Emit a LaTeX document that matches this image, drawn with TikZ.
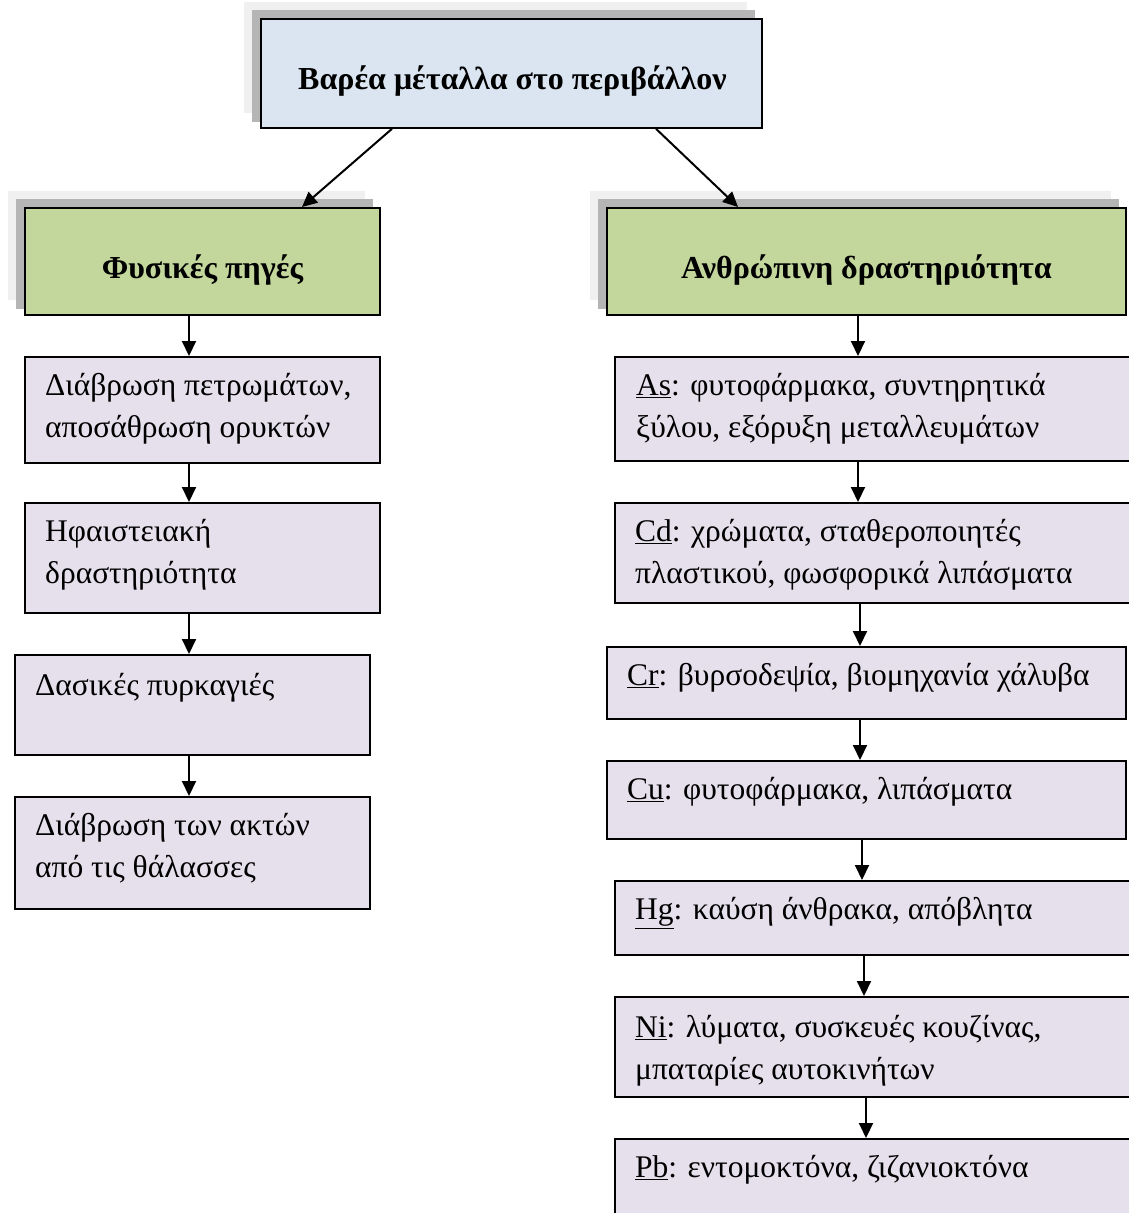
\documentclass[tikz,border=0pt]{standalone}
\usepackage{fontspec}
\setmainfont{Liberation Serif}
\usetikzlibrary{arrows.meta}

\definecolor{headblue}{HTML}{DBE5F1}
\definecolor{headgreen}{HTML}{C3D69B}
\definecolor{itemlav}{HTML}{E5E0EC}
\definecolor{shadowdark}{HTML}{B5B5B5}
\definecolor{shadowlight}{HTML}{F0F0F0}

\tikzset{
  box/.style={draw=black, line width=1.8pt, rectangle, anchor=north west, inner sep=0pt},
  headbox/.style={box},
  headtext/.style={inner sep=0pt, font=\fontsize{32}{38}\selectfont\bfseries},
  itembox/.style={box, fill=itemlav},
  itemtext/.style={anchor=north west, inner sep=0pt, align=left,
    font=\fontsize{31.5}{42}\selectfont},
  arr/.style={line width=2pt, -{Triangle[length=15pt,width=14pt]}},
}

% shadow behind a header box: two stacked grey plates offset up-left
\newcommand{\plateshadow}[4]{%
  \fill[shadowlight] (#1-16,#2-16) rectangle (#1+#3-14,#2+#4-14);
  \fill[shadowdark]  (#1-8,#2-8)   rectangle (#1+#3-6,#2+#4-5);
}

\begin{document}
\begin{tikzpicture}[x=1pt,y=-1pt]
\useasboundingbox (0,0) rectangle (1129,1213);
\clip (0,0) rectangle (1129,1213);

% header boxes with their shadows
\plateshadow{260}{18}{501}{109}
\node[headbox, fill=headblue, minimum width=501pt, minimum height=109pt] (top) at (260,18) {};
\node[headtext] (toptext) at ([xshift=1pt,yshift=-8pt]top.center) {Βαρέα μέταλλα στο περιβάλλον};

\plateshadow{24}{207}{355}{107}
\node[headbox, fill=headgreen, minimum width=355pt, minimum height=107pt] (nat) at (24,207) {};
\node[headtext] (nattext) at ([yshift=-9pt]nat.center) {Φυσικές πηγές};

\plateshadow{606}{207}{519}{107}
\node[headbox, fill=headgreen, minimum width=519pt, minimum height=107pt] (hum) at (606,207) {};
\node[headtext] (humtext) at ([yshift=-9pt]hum.center) {Ανθρώπινη δραστηριότητα};

% natural sources
\node[itembox, minimum width=355pt, minimum height=106pt] (n1) at (24,356) {};
\node[itemtext] (n1t) at ([shift={(21,10)}]n1.north west) {\strut Διάβρωση πετρωμάτων,\\αποσάθρωση ορυκτών};
\node[itembox, minimum width=355pt, minimum height=110pt] (n2) at (24,502) {};
\node[itemtext] (n2t) at ([shift={(21,10)}]n2.north west) {\strut Ηφαιστειακή\\δραστηριότητα};
\node[itembox, minimum width=355pt, minimum height=100pt] (n3) at (14,654) {};
\node[itemtext] (n3t) at ([shift={(21,12)}]n3.north west) {\strut Δασικές πυρκαγιές};
\node[itembox, minimum width=355pt, minimum height=112pt] (n4) at (14,796) {};
\node[itemtext] (n4t) at ([shift={(21,10)}]n4.north west) {\strut Διάβρωση των ακτών\\από τις θάλασσες};

% human activity
\node[itembox, minimum width=540pt, minimum height=104pt] (h1) at (614,356) {};
\node[itemtext] (h1t) at ([shift={(22,10)}]h1.north west) {\strut\underline{As}: φυτοφάρμακα, συντηρητικά\\ξύλου, εξόρυξη μεταλλευμάτων};
\node[itembox, minimum width=540pt, minimum height=100pt] (h2) at (614,502) {};
\node[itemtext] (h2t) at ([shift={(21,10)}]h2.north west) {\strut\underline{Cd}: χρώματα, σταθεροποιητές\\πλαστικού, φωσφορικά λιπάσματα};
\node[itembox, minimum width=519pt, minimum height=72pt] (h3) at (606,646) {};
\node[itemtext] (h3t) at ([shift={(21,10)}]h3.north west) {\strut\underline{Cr}: βυρσοδεψία, βιομηχανία χάλυβα};
\node[itembox, minimum width=519pt, minimum height=78pt] (h4) at (606,760) {};
\node[itemtext] (h4t) at ([shift={(21,10)}]h4.north west) {\strut\underline{Cu}: φυτοφάρμακα, λιπάσματα};
\node[itembox, minimum width=540pt, minimum height=74pt] (h5) at (614,880) {};
\node[itemtext] (h5t) at ([shift={(21,10)}]h5.north west) {\strut\underline{Hg}: καύση άνθρακα, απόβλητα};
\node[itembox, minimum width=540pt, minimum height=100pt] (h6) at (614,996) {};
\node[itemtext] (h6t) at ([shift={(21,12)}]h6.north west) {\strut\underline{Ni}: λύματα, συσκευές κουζίνας,\\μπαταρίες αυτοκινήτων};
\node[itembox, minimum width=540pt, minimum height=100pt] (h7) at (614,1138) {};
\node[itemtext] (h7t) at ([shift={(21,10)}]h7.north west) {\strut\underline{Pb}: εντομοκτόνα, ζιζανιοκτόνα};

% connector columns
\coordinate (cl) at (189,0);
\coordinate (ca) at (858,0);
\coordinate (cb) at (860,0);
\coordinate (cc) at (862,0);
\coordinate (cd) at (864,0);
\coordinate (ce) at (866,0);
\coordinate (tl) at (392,0);
\coordinate (tr) at (656,0);
\coordinate (gl) at (302,0);
\coordinate (gr) at (738,0);

% connectors from the title
\draw[arr] (top.south -| tl) -- (nat.north -| gl);
\draw[arr] (top.south -| tr) -- (hum.north -| gr);

% left chain
\draw[arr] (nat.south -| cl) -- (n1.north -| cl);
\draw[arr] (n1.south -| cl) -- (n2.north -| cl);
\draw[arr] (n2.south -| cl) -- (n3.north -| cl);
\draw[arr] (n3.south -| cl) -- (n4.north -| cl);

% right chain
\draw[arr] (hum.south -| ca) -- (h1.north -| ca);
\draw[arr] (h1.south -| ca) -- (h2.north -| ca);
\draw[arr] (h2.south -| cb) -- (h3.north -| cb);
\draw[arr] (h3.south -| cb) -- (h4.north -| cb);
\draw[arr] (h4.south -| cc) -- (h5.north -| cc);
\draw[arr] (h5.south -| cd) -- (h6.north -| cd);
\draw[arr] (h6.south -| ce) -- (h7.north -| ce);
\end{tikzpicture}
\end{document}
